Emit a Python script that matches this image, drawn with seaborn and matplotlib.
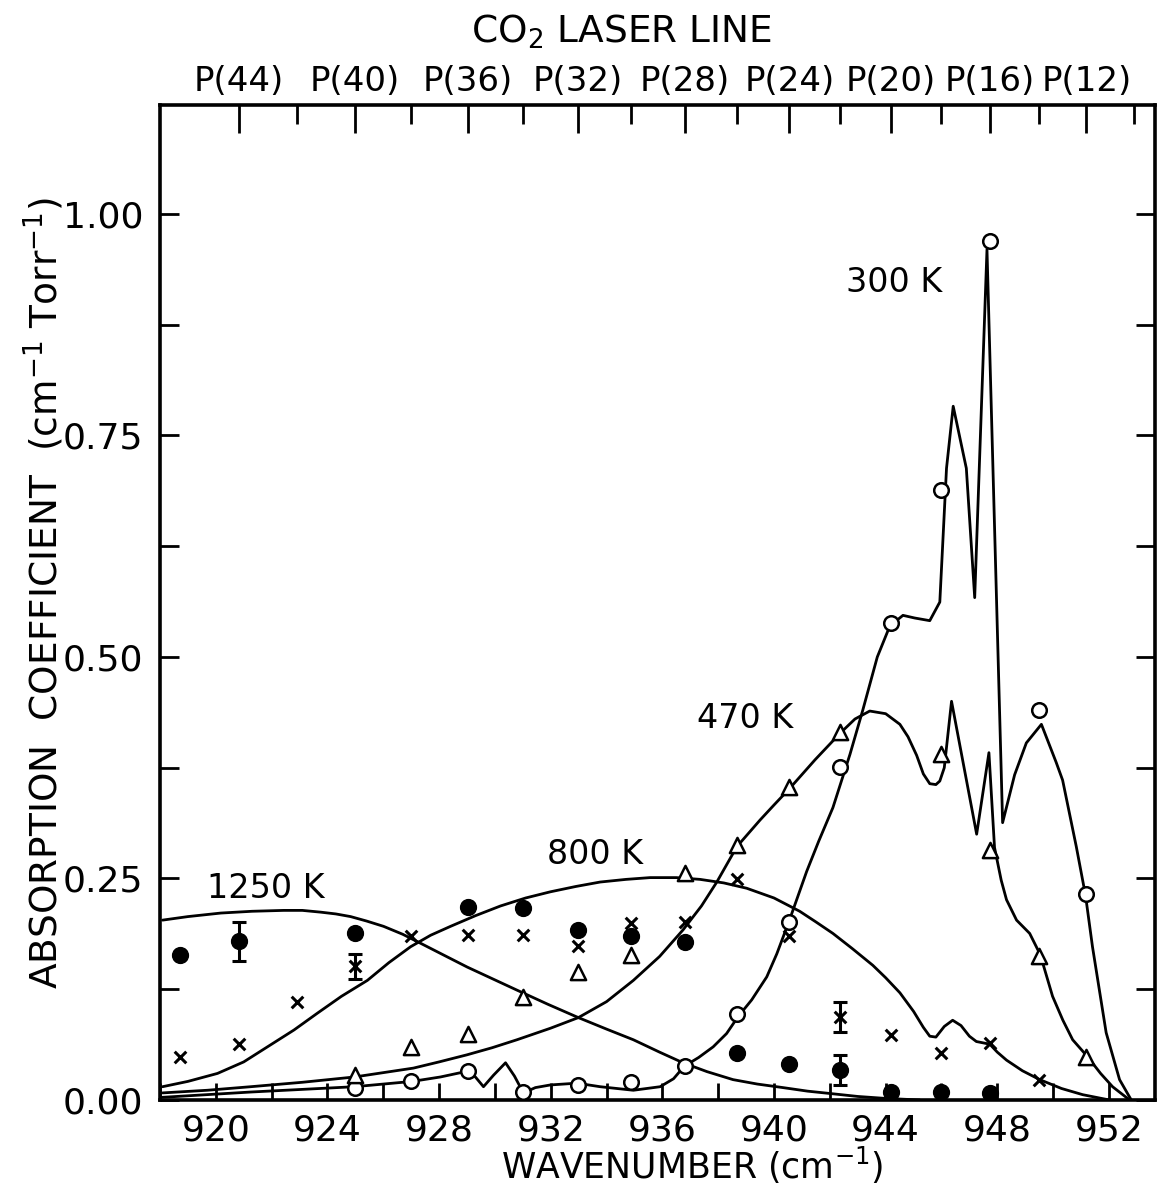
import numpy as np
import pandas as pd
import matplotlib
matplotlib.use("Agg")
import matplotlib.pyplot as plt
from matplotlib.ticker import FixedLocator, NullFormatter
import seaborn as sns

# ---------------- data ----------------
# CO2 laser line positions (cm^-1)
p_numbers = [46, 44, 42, 40, 38, 36, 34, 32, 30, 28, 26, 24, 22, 20, 18, 16, 14, 12, 10]
p_wavenumbers = [918.72, 920.83, 922.91, 924.97, 927.01, 929.02, 931.00, 932.96, 934.89,
                 936.80, 938.69, 940.55, 942.38, 944.19, 945.98, 947.74, 949.48, 951.19, 952.88]

# measured points
k300_x = [924.97, 927.01, 929.02, 931.00, 932.96, 934.89, 936.80, 938.69, 940.55, 942.38,
          944.19, 945.98, 947.74, 949.48, 951.19]
k300_y = [0.014, 0.021, 0.033, 0.009, 0.017, 0.020, 0.038, 0.097, 0.201, 0.376,
          0.538, 0.688, 0.969, 0.440, 0.232]

k470_x = [924.97, 927.01, 929.02, 931.00, 932.96, 934.89, 936.80, 938.69, 940.55, 942.38,
          945.98, 947.74, 949.48, 951.19]
k470_y = [0.028, 0.060, 0.074, 0.116, 0.145, 0.164, 0.256, 0.288, 0.353, 0.415,
          0.390, 0.282, 0.163, 0.049]

k800_x = [918.72, 920.83, 922.91, 924.97, 927.01, 929.02, 931.00, 932.96, 934.89, 936.80,
          938.69, 940.55, 942.38, 944.19, 945.98, 947.74, 949.48]
k800_y = [0.048, 0.063, 0.111, 0.151, 0.185, 0.186, 0.186, 0.174, 0.200, 0.201,
          0.249, 0.185, 0.094, 0.073, 0.053, 0.064, 0.023]

k1250_x = [918.72, 920.83, 924.97, 929.02, 931.00, 932.96, 934.89, 936.80, 938.69, 940.55,
           942.38, 944.19, 945.98, 947.74]
k1250_y = [0.164, 0.179, 0.188, 0.218, 0.217, 0.192, 0.185, 0.178, 0.053, 0.041,
           0.034, 0.009, 0.009, 0.008]

# error bars (x, y, half-width)
err800_x = [924.97, 942.38]
err800_y = [0.151, 0.094]
err800_e = [0.014, 0.017]
err1250_x = [920.83, 942.38]
err1250_y = [0.179, 0.034]
err1250_e = [0.022, 0.017]

# hand-drawn curves
c300_x = [918.07, 921.25, 924.97, 927.04, 928.05, 928.94, 929.30, 929.59, 929.95, 930.38,
          930.70, 931.02, 931.45, 931.99, 932.94, 933.77, 934.96, 935.92, 936.40, 936.78,
          937.30, 937.82, 938.30, 938.71, 939.20, 939.74, 940.10, 940.53, 941.17, 941.60,
          942.11, 942.72, 943.18, 943.70, 944.15, 944.62, 945.04, 945.58, 945.94, 946.18,
          946.42, 946.89, 947.19, 947.63, 948.19, 948.62, 949.04, 949.58, 950.11, 950.34,
          950.83, 951.16, 951.41, 951.90, 952.38, 952.80]
c300_y = [0.003, 0.009, 0.015, 0.021, 0.026, 0.032, 0.026, 0.015, 0.028, 0.042,
          0.027, 0.008, 0.014, 0.017, 0.019, 0.015, 0.011, 0.015, 0.024, 0.038,
          0.048, 0.060, 0.075, 0.094, 0.113, 0.139, 0.165, 0.201, 0.258, 0.292,
          0.330, 0.390, 0.440, 0.500, 0.535, 0.547, 0.544, 0.541, 0.562, 0.713,
          0.783, 0.713, 0.567, 0.960, 0.313, 0.367, 0.403, 0.424, 0.381, 0.361,
          0.286, 0.231, 0.173, 0.076, 0.023, 0.000]

c470_x = [918.09, 919.70, 921.25, 923.10, 924.97, 927.08, 928.00, 929.00, 929.90, 930.79,
          931.99, 932.99, 934.00, 934.96, 935.90, 936.74, 937.40, 937.95, 938.67, 939.50,
          940.00, 940.57, 941.47, 942.37, 942.90, 943.43, 944.00, 944.51, 944.80, 945.11,
          945.35, 945.58, 945.80, 945.94, 946.10, 946.36, 947.26, 947.70, 947.90, 948.14,
          948.33, 948.69, 949.16, 949.54, 949.98, 950.35, 950.70, 951.23, 951.70, 952.13,
          952.74]
c470_y = [0.008, 0.011, 0.015, 0.020, 0.026, 0.036, 0.043, 0.051, 0.059, 0.068,
          0.081, 0.093, 0.111, 0.135, 0.162, 0.192, 0.219, 0.246, 0.286, 0.316,
          0.333, 0.352, 0.384, 0.414, 0.430, 0.439, 0.436, 0.424, 0.410, 0.389,
          0.368, 0.357, 0.356, 0.360, 0.375, 0.450, 0.300, 0.392, 0.285, 0.248,
          0.226, 0.203, 0.188, 0.164, 0.117, 0.090, 0.068, 0.049, 0.030, 0.015,
          0.000]

c800_x = [918.09, 919.00, 920.06, 921.00, 921.85, 922.80, 923.64, 924.50, 925.43, 926.20,
          926.98, 927.70, 928.41, 929.30, 930.20, 931.10, 931.99, 932.90, 933.77, 934.70,
          935.56, 936.50, 937.35, 938.20, 939.02, 940.00, 940.92, 941.50, 942.11, 942.80,
          943.54, 944.00, 944.51, 945.00, 945.35, 945.58, 945.80, 946.10, 946.40, 946.70,
          947.00, 947.25, 947.73, 948.00, 948.33, 948.90, 949.52, 950.30, 951.06, 952.02]
c800_y = [0.015, 0.021, 0.030, 0.043, 0.060, 0.079, 0.098, 0.117, 0.135, 0.155,
          0.173, 0.186, 0.196, 0.208, 0.219, 0.228, 0.235, 0.241, 0.246, 0.249,
          0.251, 0.251, 0.249, 0.245, 0.239, 0.228, 0.213, 0.201, 0.188, 0.171,
          0.152, 0.138, 0.121, 0.100, 0.082, 0.072, 0.071, 0.083, 0.090, 0.084,
          0.072, 0.066, 0.063, 0.054, 0.045, 0.033, 0.023, 0.013, 0.006, 0.000]

c1250_x = [918.09, 919.00, 920.18, 921.30, 922.43, 923.10, 923.76, 924.30, 924.83, 925.40,
           926.01, 926.70, 927.33, 928.20, 929.01, 929.90, 930.79, 931.90, 932.99, 934.00,
           934.96, 935.90, 936.74, 937.60, 938.53, 939.40, 940.32, 941.20, 942.11, 943.00,
           943.90, 945.22]
c1250_y = [0.203, 0.207, 0.211, 0.213, 0.214, 0.214, 0.212, 0.210, 0.207, 0.202,
           0.196, 0.187, 0.177, 0.163, 0.150, 0.137, 0.124, 0.108, 0.093, 0.080,
           0.068, 0.054, 0.042, 0.032, 0.023, 0.018, 0.014, 0.010, 0.007, 0.004,
           0.002, 0.000]

curve_labels = ["300 K", "470 K", "800 K", "1250 K"]
curve_label_x = [944.3, 938.95, 933.6, 921.8]
curve_label_y = [0.923, 0.431, 0.277, 0.239]

x_tick_values = [918, 920, 922, 924, 926, 928, 930, 932, 934, 936, 938, 940, 942, 944,
                 946, 948, 950, 952]
x_tick_labels = ["", "920", "", "924", "", "928", "", "932", "", "936", "", "940", "",
                 "944", "", "948", "", "952"]
y_tick_values = [0.0, 0.125, 0.25, 0.375, 0.50, 0.625, 0.75, 0.875, 1.00]
y_tick_labels = ["0.00", "", "0.25", "", "0.50", "", "0.75", "", "1.00"]
top_labeled = [44, 40, 36, 32, 28, 24, 20, 16, 12]

# ---------------- style ----------------
sns.set_style("white")
plt.rcParams["font.family"] = ["DejaVu Sans"]
plt.rcParams["mathtext.default"] = "regular"
for key in ["text.color", "axes.labelcolor", "xtick.color", "ytick.color", "axes.edgecolor"]:
    plt.rcParams[key] = "black"

W, H = 1161, 1193
fig = plt.figure(figsize=(W / 100, H / 100), dpi=100)
ax = fig.add_axes([160 / W, 1 - 1100 / H, 995 / W, 995 / H])

LW = 2.0
for cx, cy in [(c300_x, c300_y), (c470_x, c470_y), (c800_x, c800_y), (c1250_x, c1250_y)]:
    df = pd.DataFrame({"x": cx, "y": cy})
    sns.lineplot(data=df, x="x", y="y", sort=False, estimator=None, color="black",
                 linewidth=LW, ax=ax, zorder=2)

# error bars
ax.errorbar(err800_x, err800_y, yerr=err800_e, fmt="none", ecolor="black",
            elinewidth=2.2, capsize=5, capthick=2.2, zorder=3)
ax.errorbar(err1250_x, err1250_y, yerr=err1250_e, fmt="none", ecolor="black",
            elinewidth=2.2, capsize=5, capthick=2.2, zorder=3)

# points
sns.scatterplot(x=k300_x, y=k300_y, marker="o", s=110, color="white", edgecolor="black",
                linewidth=1.8, ax=ax, zorder=4)
sns.scatterplot(x=k470_x, y=k470_y, marker="^", s=120, color="white", edgecolor="black",
                linewidth=1.8, ax=ax, zorder=4)
sns.scatterplot(x=k800_x, y=k800_y, marker="x", s=70, color="black",
                linewidth=2.2, ax=ax, zorder=4)
sns.scatterplot(x=k1250_x, y=k1250_y, marker="o", s=130, color="black", edgecolor="black",
                linewidth=1.0, ax=ax, zorder=4)

# curve labels
for t, x, y in zip(curve_labels, curve_label_x, curve_label_y):
    ax.text(x, y, t, ha="center", va="center", fontsize=24, color="black")

# axes limits and ticks
ax.set_xlim(918.03, 953.65)
ax.set_ylim(0, 1.123)
ax.set_xticks(x_tick_values)
ax.set_xticklabels(x_tick_labels)
ax.set_yticks(y_tick_values)
ax.set_yticklabels(y_tick_labels)
ax.tick_params(axis="both", which="both", direction="in", width=2, color="black",
               labelsize=26, top=False, right=True, bottom=True, left=True)
ax.tick_params(axis="x", which="both", length=12, pad=10)
ax.tick_params(axis="y", which="both", length=14, pad=12)
for sp in ax.spines.values():
    sp.set_linewidth(2.6)
    sp.set_color("black")

ax.set_xlabel("WAVENUMBER (cm$^{-1}$)", fontsize=25)
ax.set_ylabel("ABSORPTION  COEFFICIENT  (cm$^{-1}$ Torr$^{-1}$)", fontsize=27)
ax.xaxis.set_label_coords(0.535, -0.066)
ax.xaxis.label.set_va("center")
ax.yaxis.set_label_coords(-0.117, 0.51)
ax.yaxis.label.set_va("center")

# top axis: CO2 laser lines
top = ax.twiny()
top.set_xlim(ax.get_xlim())
top_ticks = [w for p, w in zip(p_numbers, p_wavenumbers) if p <= 44]
top_nums = [p for p in p_numbers if p <= 44]
major_w = [w for p, w in zip(top_nums, top_ticks) if p in top_labeled]
minor_w = [w for p, w in zip(top_nums, top_ticks) if p not in top_labeled]
top.xaxis.set_major_locator(FixedLocator(major_w))
top.xaxis.set_minor_locator(FixedLocator(minor_w))
top.set_xticklabels([f"P({p})" for p in top_labeled])
top.xaxis.set_minor_formatter(NullFormatter())
top.tick_params(axis="x", which="major", direction="in", length=20, width=2,
                labelsize=24.5, pad=5, colors="black")
top.tick_params(axis="x", which="minor", direction="in", length=14, width=2, colors="black")
top.tick_params(axis="y", left=False, right=False, labelleft=False, labelright=False)
for sp in top.spines.values():
    sp.set_visible(False)
top.grid(False)
ax.grid(False)

fig.text(622 / W, 1 - 32 / H, "CO$_2$ LASER LINE", ha="center", va="center", fontsize=27)

fig.savefig("out.png", dpi=100, facecolor="white")
